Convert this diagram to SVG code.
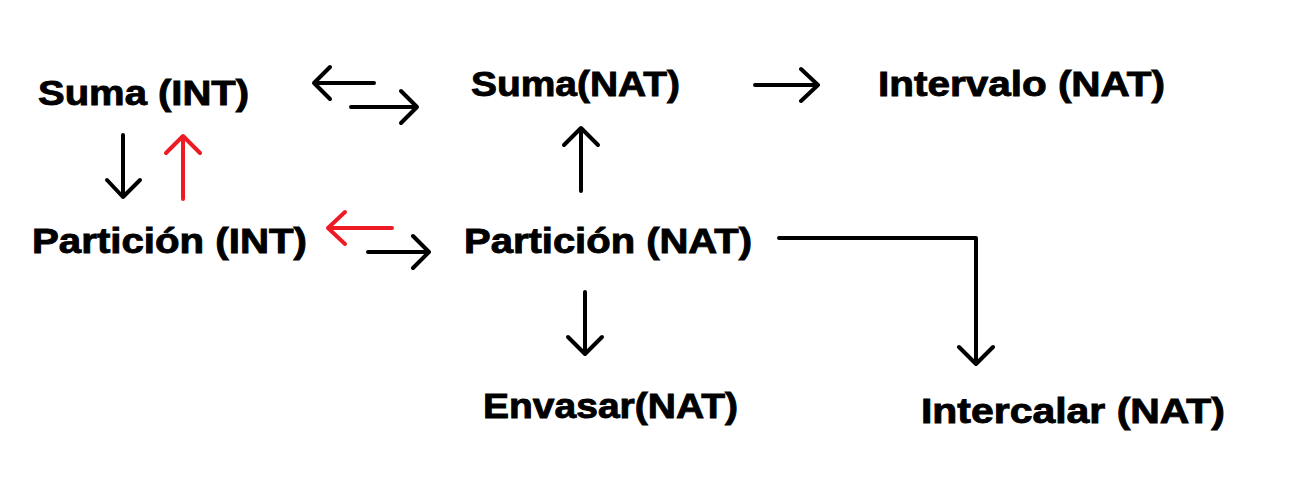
<svg xmlns="http://www.w3.org/2000/svg" width="1293" height="493" viewBox="0 0 1293 493">
<style>
text{font-family:"Liberation Sans",Arial,sans-serif;font-weight:bold;font-size:35px;fill:#000;stroke:#000;stroke-width:0.9}
.a{fill:none;stroke:#000;stroke-width:4;stroke-linecap:round;stroke-linejoin:round}
.r{stroke:#ED1C24}
</style>
<rect width="1293" height="493" fill="#fff"/>
<g id="suma-int"><text x="38" y="105" textLength="211" lengthAdjust="spacingAndGlyphs">Suma (INT)</text></g>
<g id="suma-nat"><text x="471" y="96" textLength="209" lengthAdjust="spacingAndGlyphs">Suma(NAT)</text></g>
<g id="intervalo-nat"><text x="878" y="96" textLength="287" lengthAdjust="spacingAndGlyphs">Intervalo (NAT)</text></g>
<g id="particion-int"><text x="32" y="253" textLength="275" lengthAdjust="spacingAndGlyphs">Partición (INT)</text></g>
<g id="particion-nat"><text x="464" y="253" textLength="288" lengthAdjust="spacingAndGlyphs">Partición (NAT)</text></g>
<g id="envasar-nat"><text x="483" y="418" textLength="255" lengthAdjust="spacingAndGlyphs">Envasar(NAT)</text></g>
<g id="intercalar-nat"><text x="921" y="423" textLength="304" lengthAdjust="spacingAndGlyphs">Intercalar (NAT)</text></g>
<g id="connectors">
<path class="a" d="M374 83H314M330 67L314 83L330 99"/>
<path class="a" d="M351 107H417M401 91L417 107L401 123"/>
<path class="a" d="M755 85H818M801 69L818 85L801 101"/>
<path class="a" d="M123 135V197M107 180L123 197L140 180"/>
<path class="a r" d="M183 199V136M166 153L183 136L200 153"/>
<path class="a r" d="M392 228H328M345 212L328 228L345 244"/>
<path class="a" d="M368 252H429M413 236L429 252L413 268"/>
<path class="a" d="M581 191V128M564 145L581 128L598 145"/>
<path class="a" d="M585 292V354M568 337L585 354L602 337"/>
<path class="a" d="M779 238H976V364M959 347L976 364L993 347"/>
</g>
</svg>
